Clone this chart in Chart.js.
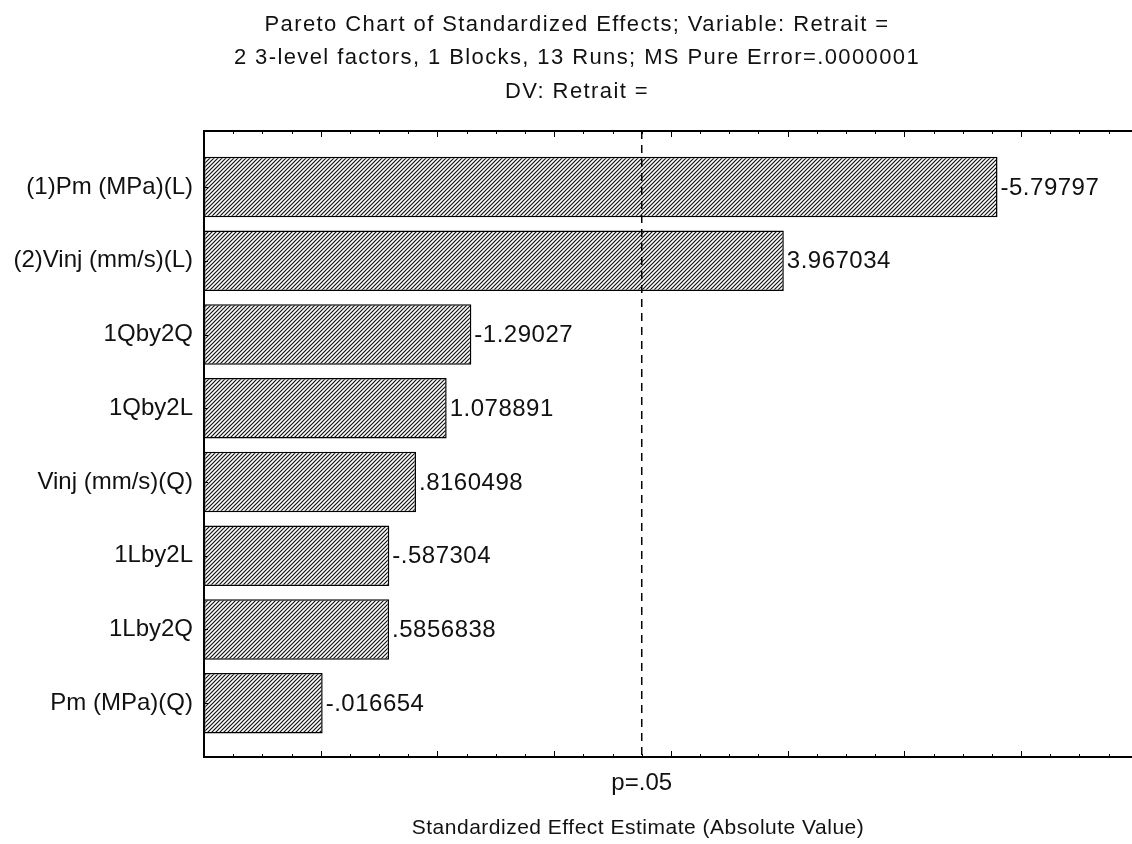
<!DOCTYPE html>
<html>
<head>
<meta charset="utf-8">
<title>Pareto Chart of Standardized Effects</title>
<script src="https://cdn.jsdelivr.net/npm/chart.js@4/dist/chart.umd.min.js"></script>
<style>
  html, body { margin: 0; padding: 0; background: #fff; overflow: hidden; }
  #wrap { width: 1132px; height: 844px; position: relative; }
</style>
</head>
<body>
<div id="wrap"><canvas id="pareto"></canvas></div>
<script>
// Effects, sorted by absolute magnitude
const categories = [
  '(1)Pm (MPa)(L)',
  '(2)Vinj (mm/s)(L)',
  '1Qby2Q',
  '1Qby2L',
  'Vinj (mm/s)(Q)',
  '1Lby2L',
  '1Lby2Q',
  'Pm (MPa)(Q)'
];
const effects = [-5.79797, 3.967034, -1.29027, 1.078891, 0.8160498, -0.587304, 0.5856838, -0.016654];
const effectLabels = ['-5.79797', '3.967034', '-1.29027', '1.078891', '.8160498', '-.587304', '.5856838', '-.016654'];
const pCritical = 2.75;
const pLabel = 'p=.05';
const titleLines = [
  'Pareto Chart of Standardized Effects; Variable: Retrait =',
  '2 3-level factors, 1 Blocks, 13 Runs; MS Pure Error=.0000001',
  'DV: Retrait ='
];
const xTitle = 'Standardized Effect Estimate (Absolute Value)';
const xMin = -1;
const xMax = 6.95;

const FONT = '"Liberation Sans", Arial, Helvetica, sans-serif';
const INK = '#111';

// diagonal "////" hatch fill for the bars
function hatchPattern() {
  const s = 4;
  const c = document.createElement('canvas');
  c.width = s; c.height = s;
  const g = c.getContext('2d');
  g.fillStyle = '#fff';
  g.fillRect(0, 0, s, s);
  g.strokeStyle = '#111';
  g.lineWidth = 1.2;
  g.beginPath();
  g.moveTo(-1, s + 1); g.lineTo(s + 1, -1);
  g.moveTo(-1, 1); g.lineTo(1, -1);
  g.moveTo(s - 1, s + 1); g.lineTo(s + 1, s - 1);
  g.stroke();
  return g.createPattern(c, 'repeat');
}

function spacedText(ctx, text, x, y, font, spacing, align) {
  ctx.font = font;
  ctx.letterSpacing = spacing + 'px';
  ctx.textAlign = align;
  ctx.fillText(text, x, y);
  ctx.letterSpacing = '0px';
}

// frame, inward tick marks, p line, value labels and titles
const decorations = {
  id: 'decorations',
  afterDatasetsDraw(chart) {
    const { ctx, chartArea: a, scales: { x, y } } = chart;
    ctx.save();
    ctx.strokeStyle = '#000';

    // significance line
    const px = x.getPixelForValue(pCritical);
    ctx.lineWidth = 1.5;
    ctx.setLineDash([8, 6]);
    ctx.beginPath();
    ctx.moveTo(px, a.top);
    ctx.lineTo(px, a.bottom);
    ctx.stroke();
    ctx.setLineDash([]);

    // frame (left, top, bottom)
    ctx.lineWidth = 2;
    ctx.beginPath();
    ctx.moveTo(a.right + 2, a.top);
    ctx.lineTo(a.left, a.top);
    ctx.lineTo(a.left, a.bottom);
    ctx.lineTo(a.right + 2, a.bottom);
    ctx.stroke();

    // tick marks on the value axis, pointing inward
    ctx.lineWidth = 1;
    for (let k = Math.ceil(xMin * 4); k / 4 <= xMax; k++) {
      const v = k / 4;
      const xp = Math.round(x.getPixelForValue(v)) + 0.5;
      const len = k % 4 === 0 ? 6 : 3;
      ctx.beginPath();
      ctx.moveTo(xp, a.top);
      ctx.lineTo(xp, a.top + len);
      ctx.moveTo(xp, a.bottom);
      ctx.lineTo(xp, a.bottom - len);
      ctx.stroke();
    }
    // tick marks on the category axis
    categories.forEach((_, i) => {
      const yp = Math.round(y.getPixelForValue(i)) + 0.5;
      ctx.beginPath();
      ctx.moveTo(a.left, yp);
      ctx.lineTo(a.left + 4, yp);
      ctx.stroke();
    });

    // value labels at the end of each bar
    ctx.fillStyle = INK;
    ctx.textBaseline = 'middle';
    const meta = chart.getDatasetMeta(0);
    meta.data.forEach((bar, i) => {
      spacedText(ctx, effectLabels[i], bar.x + 3, bar.y + 1, '24px ' + FONT, 0.5, 'left');
    });

    // p label below the axis
    ctx.textBaseline = 'alphabetic';
    spacedText(ctx, pLabel, px, 790, '24px ' + FONT, 0, 'center');
    // axis title
    spacedText(ctx, xTitle, 638, 834, '21px ' + FONT, 0.5, 'center');
    // chart titles
    const ys = [31, 64, 98];
    titleLines.forEach((t, i) => {
      spacedText(ctx, t, 577, ys[i], '22px ' + FONT, 1.4, 'center');
    });
    ctx.restore();
  }
};

const barData = effects.map((e, i) => ({ x: Math.abs(e), y: i }));

new Chart(document.getElementById('pareto'), {
  type: 'bar',
  data: {
    datasets: [{
      data: barData,
      base: xMin,
      backgroundColor: hatchPattern(),
      borderColor: '#000',
      borderWidth: 1.5,
      borderSkipped: false,
      barPercentage: 0.82,
      categoryPercentage: 1
    }]
  },
  options: {
    indexAxis: 'y',
    responsive: true,
    maintainAspectRatio: false,
    animation: false,
    layout: { padding: { top: 131, bottom: 87, left: 0, right: 0 } },
    plugins: {
      legend: { display: false },
      tooltip: { enabled: false },
      title: { display: false }
    },
    scales: {
      x: {
        type: 'linear',
        min: xMin,
        max: xMax,
        grid: { display: false },
        border: { display: false },
        ticks: { display: false },
        afterFit(scale) { scale.height = 0; }
      },
      y: {
        type: 'linear',
        reverse: true,
        offset: false,
        min: -0.76,
        max: 7.73,
        grid: { display: false, drawTicks: false },
        border: { display: false },
        afterBuildTicks(scale) {
          scale.ticks = categories.map((_, i) => ({ value: i }));
        },
        ticks: {
          autoSkip: false,
          padding: 11,
          color: INK,
          font: { family: FONT, size: 24 },
          callback: (v) => categories[v]
        },
        afterFit(scale) { scale.width = 204; }
      }
    }
  },
  plugins: [decorations]
});
</script>
</body>
</html>
